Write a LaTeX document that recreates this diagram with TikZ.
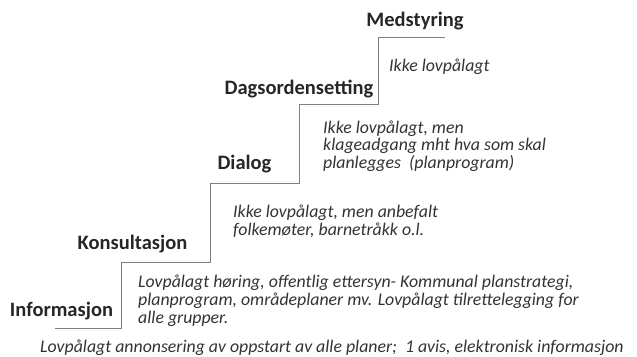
\documentclass[tikz,border=0pt]{standalone}
\usepackage{fontspec}
\setmainfont{Carlito}
\begin{document}
\begin{tikzpicture}[x=1pt,y=-1pt,
  stair/.style={draw=black!50,line width=0.9pt},
  level/.style={font=\fontsize{20.5}{23}\selectfont\bfseries,text=black!85,inner sep=0pt,anchor=base},
  note/.style={font=\fontsize{17.8}{19}\selectfont\itshape,text=black!80,inner sep=0pt,anchor=base west,align=left}]
\useasboundingbox (0,0) rectangle (637,356);
\coordinate (s0) at (55,328);
\coordinate (s1) at (121,328);
\coordinate (s2) at (121,262);
\coordinate (s3) at (210,262);
\coordinate (s4) at (210,183);
\coordinate (s5) at (299,183);
\coordinate (s6) at (299,104);
\coordinate (s7) at (378,104);
\coordinate (s8) at (378,37);
\coordinate (s9) at (445,37);
\draw[stair] (s0) -- (s1) -- (s2) -- (s3) -- (s4) -- (s5) -- (s6) -- (s7) -- (s8) -- (s9);
\node[level] (med) at (415,26) {Medstyring};
\node[level] (dag) at (299,94) {Dagsordensetting};
\node[level] (dia) at (244.5,169) {Dialog};
\node[level] (kon) at (132.5,249) {Konsultasjon};
\node[level] (inf) at (61.5,316) {Informasjon};
\node[note] (n1) at (389,71) {Ikke lovpålagt};
\node[note] (n2) at (323,133) {Ikke lovpålagt, men};
\node[note] (n3) at (323,150.5) {klageadgang mht hva som skal};
\node[note] (n4) at (323,168) {planlegges\ \ (planprogram)};
\node[note] (n5) at (233,217) {Ikke lovpålagt, men anbefalt};
\node[note] (n6) at (233,235) {folkemøter, barnetråkk o.l.};
\node[note] (n7) at (138,287) {Lovpålagt høring, offentlig ettersyn- Kommunal planstrategi,};
\node[note] (n8) at (138,305) {planprogram, områdeplaner mv. Lovpålagt tilrettelegging for};
\node[note] (n9) at (138,323) {alle grupper.};
\node[note] (n10) at (40,352) {Lovpålagt annonsering av oppstart av alle planer;\ \ 1 avis, elektronisk informasjon};
\end{tikzpicture}
\end{document}
